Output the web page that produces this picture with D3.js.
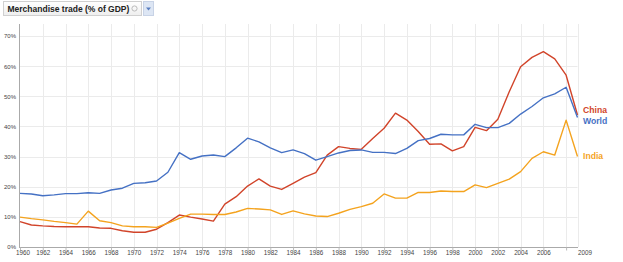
<!DOCTYPE html>
<html><head><meta charset="utf-8">
<script src="https://cdn.jsdelivr.net/npm/d3@7"></script>
<style>
html,body{margin:0;padding:0;background:#fff;}
svg{display:block;font-family:Arial,"Liberation Sans",sans-serif;}
</style></head><body>
<svg id="c" width="623" height="262"></svg>
<script>
const years = d3.range(1960, 2010);
const china = [8.4,7.3,7.0,6.8,6.7,6.7,6.7,6.3,6.2,5.4,4.9,4.9,5.9,8.1,10.6,9.9,9.3,8.6,14.2,16.7,20.2,22.6,20.2,19.1,21.1,23.2,24.7,30.5,33.3,32.7,32.4,36.0,39.4,44.4,42.1,38.3,34.1,34.2,31.9,33.3,39.7,38.6,42.4,51.5,59.8,62.9,64.8,62.4,57.0,43.8];
const world = [17.8,17.6,17.0,17.3,17.7,17.7,18.0,17.8,18.9,19.5,21.1,21.3,21.9,24.8,31.3,29.1,30.2,30.5,30.0,32.9,36.1,34.9,32.9,31.3,32.2,31.0,28.8,30.0,31.2,32.0,32.2,31.4,31.4,31.0,32.7,35.3,36.0,37.4,37.2,37.2,40.7,39.6,39.6,41.0,44.1,46.6,49.5,50.8,53.0,43.0];
const india = [9.9,9.4,9.0,8.5,8.1,7.6,11.9,8.7,8.1,7.0,6.7,6.7,6.5,7.9,9.5,10.9,10.9,10.8,10.8,11.6,12.8,12.6,12.3,10.8,12.0,11.0,10.3,10.1,11.2,12.5,13.4,14.5,17.6,16.2,16.2,18.1,18.1,18.6,18.4,18.4,20.6,19.7,21.1,22.5,25.0,29.4,31.6,30.5,42.1,30.0];
const yTicks = [0,10,20,30,40,50,60,70];
const xTickYears = [1960,1962,1964,1966,1968,1970,1972,1974,1976,1978,1980,1982,1984,1986,1988,1990,1992,1994,1996,1998,2000,2002,2004,2006];
const lastLabel = 2009;
const seriesNames = ["China","World","India"];
const seriesColors = ["#d1442a","#4571c4","#f4a31e"];
const title = "Merchandise trade (% of GDP)";

const svg = d3.select("#c");
const x = d3.scaleLinear().domain([1960,2009]).range([20,577.5]);
const y = d3.scaleLinear().domain([0,70]).range([247,36]);
const plotTop = 24;

function fitSize(sample, target, weight){
  const t = svg.append("text").attr("font-size","10px").attr("font-weight",weight||"normal").text(sample);
  const w = t.node().getComputedTextLength();
  t.remove();
  return 10*target/w;
}
const xFont = fitSize("1960", 14);
const yFont = fitSize("70%", 12);
const legFont = fitSize("China", 24, "bold");
const titleFont = fitSize(title, 122, "bold");

// grid
const g = svg.append("g");
g.selectAll(".hg").data(yTicks.slice(1)).join("line")
  .attr("x1",20).attr("x2",577.5).attr("y1",d=>Math.round(y(d))+0.5).attr("y2",d=>Math.round(y(d))+0.5)
  .attr("stroke","#ebebeb").attr("stroke-width",1);
g.selectAll(".vg").data(xTickYears.slice(1).concat([2008,2009])).join("line")
  .attr("x1",d=>Math.round(x(d))+0.5).attr("x2",d=>Math.round(x(d))+0.5).attr("y1",plotTop).attr("y2",247)
  .attr("stroke","#ebebeb").attr("stroke-width",1);

// axes
const xAxis = d3.axisBottom(x).tickValues(xTickYears.concat([2008])).tickSize(3).tickFormat(d=> d===2008 ? "" : d3.format("d")(d));
const ax = svg.append("g").attr("transform","translate(0,247.5)").call(xAxis);
ax.select(".domain").attr("stroke","#aaa").attr("d","M19,0H578");
ax.selectAll(".tick line").attr("stroke","#bbb");
ax.selectAll(".tick text").attr("fill","#444").attr("font-size",xFont+"px").attr("y",3.5).attr("dy","0.71em").attr("font-family","Arial,'Liberation Sans',sans-serif");
ax.selectAll(".tick text").filter(d=>d===1960).attr("dx","2.5");
ax.append("text").attr("x",x(lastLabel)+0.5).attr("y",3.5).attr("dy","0.71em").attr("text-anchor","start")
  .attr("fill","#444").attr("font-size",xFont+"px").text(lastLabel);

const yAxis = d3.axisLeft(y).tickValues(yTicks).tickSize(0).tickFormat(d=>d+"%");
const ay = svg.append("g").attr("transform","translate(19.5,0)").call(yAxis);
ay.select(".domain").attr("stroke","#aaa").attr("d","M0,"+plotTop+"V247.5");
ay.selectAll(".tick text").attr("fill","#444").attr("font-size",yFont+"px").attr("x",-3.5).attr("font-family","Arial,'Liberation Sans',sans-serif");

// lines
const line = d3.line().x((d,i)=>x(years[i])).y(d=>y(d));
const data = [china, world, india];
svg.append("g").selectAll("path").data(data).join("path")
  .attr("d",d=>line(d)).attr("fill","none")
  .attr("stroke",(d,i)=>seriesColors[i]).attr("stroke-width",1.4).attr("stroke-linejoin","round");

// legend labels
const labY = [110,120.5,156];
svg.append("g").selectAll("text").data(seriesNames).join("text")
  .attr("x",583).attr("y",(d,i)=>labY[i]).attr("dy","0.35em")
  .attr("fill",(d,i)=>seriesColors[i]).attr("font-weight","bold").attr("font-size",legFont+"px").text(d=>d);

// title box
const tb = svg.append("g");
const grad = svg.append("defs").append("linearGradient").attr("id","tg").attr("x1",0).attr("x2",0).attr("y1",0).attr("y2",1);
grad.append("stop").attr("offset",0).attr("stop-color","#ffffff");
grad.append("stop").attr("offset",1).attr("stop-color","#eeeeee");
tb.append("rect").attr("x",3.5).attr("y",1.5).attr("width",138).attr("height",14).attr("fill","url(#tg)").attr("stroke","#d0d0d0");
tb.append("text").attr("x",7.5).attr("y",8.7).attr("dy","0.35em").attr("font-size",titleFont+"px").attr("font-weight","bold").attr("fill","#222").text(title);
tb.append("circle").attr("cx",134.5).attr("cy",8.5).attr("r",2.6).attr("fill","none").attr("stroke","#bbb");
tb.append("rect").attr("x",143.5).attr("y",1.5).attr("width",10).attr("height",14).attr("fill","#dde6f4").attr("stroke","#c8d3e6");
tb.append("path").attr("d","M146,7.5 L151,7.5 L148.5,10.5 Z").attr("fill","#5a7fc0");
</script>
</body></html>
